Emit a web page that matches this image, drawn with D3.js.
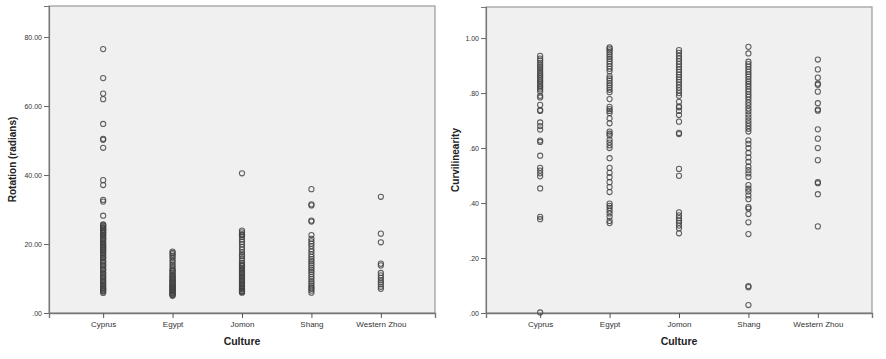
<!DOCTYPE html>
<html>
<head>
<meta charset="utf-8">
<script src="https://cdn.jsdelivr.net/npm/d3@7"></script>
<style>
  html, body { margin: 0; padding: 0; background: #ffffff; }
  svg { display: block; }
  text { font-family: "Liberation Sans", Arial, sans-serif; }
</style>
</head>
<body>
<svg id="chart" width="886" height="359"></svg>
<script>
const categories = ["Cyprus", "Egypt", "Jomon", "Shang", "Western Zhou"];

// Left panel: Rotation (radians)
const rotCyprus = [76.5, 68.1, 63.6, 62.0, 54.8, 50.5, 50.2, 47.9, 38.5, 37.1, 32.8, 32.3, 28.2, 25.7, 25.5, 25.3, 24.9, 24.7, 24.6, 24.2, 24.0, 23.9, 23.5, 23.3, 23.1, 22.6, 22.4, 22.2, 21.7, 21.5, 21.3, 20.8, 20.5, 20.1, 19.8, 19.6, 19.2, 18.9, 18.7, 18.3, 18.1, 17.9, 17.4, 17.1, 16.8, 16.3, 16.0, 15.9, 15.2, 14.9, 14.6, 14.1, 13.8, 13.5, 12.9, 12.6, 12.4, 11.8, 11.5, 11.2, 10.7, 10.4, 10.1, 9.6, 9.3, 9.0, 8.5, 8.2, 7.9, 7.4, 7.2, 7.0, 6.6, 6.4, 6.2, 5.8];
const rotEgypt = [17.8, 17.4, 17.0, 16.5, 16.0, 15.3, 14.8, 14.1, 13.6, 13.0, 12.5, 12.2, 12.0, 11.5, 11.2, 11.0, 10.6, 10.4, 10.2, 9.8, 9.6, 9.4, 9.0, 8.8, 8.7, 8.3, 8.1, 8.0, 7.7, 7.5, 7.4, 7.1, 6.9, 6.8, 6.5, 6.3, 6.2, 5.9, 5.7, 5.6, 5.3, 5.2, 5.0];
const rotJomon = [40.5, 23.9, 23.4, 22.8, 22.7, 22.5, 22.0, 21.3, 20.6, 19.9, 19.1, 18.4, 17.6, 16.9, 16.5, 15.8, 15.1, 14.5, 14.0, 13.7, 13.5, 13.0, 12.7, 12.4, 11.9, 11.6, 11.3, 10.8, 10.5, 10.3, 9.8, 9.5, 9.3, 8.8, 8.6, 8.4, 8.0, 7.8, 7.6, 7.2, 7.0, 6.8, 6.4, 6.2, 6.1, 5.9];
const rotShang = [35.9, 31.5, 31.2, 26.8, 26.5, 22.6, 21.5, 20.8, 20.1, 19.4, 18.5, 17.8, 17.0, 16.3, 15.6, 15.0, 14.4, 13.8, 13.1, 12.5, 11.9, 11.2, 10.5, 9.9, 9.2, 8.6, 8.0, 7.4, 7.0, 6.5, 5.9];
const rotWesternZhou = [33.7, 23.0, 20.5, 14.3, 13.8, 11.6, 10.9, 10.2, 9.5, 8.9, 8.3, 7.6, 7.0];
const rotTicks = [0, 20, 40, 60, 80];

// Right panel: Curvilinearity
const curCyprus = [0.935, 0.925, 0.918, 0.910, 0.902, 0.895, 0.888, 0.880, 0.873, 0.866, 0.860, 0.853, 0.846, 0.840, 0.833, 0.826, 0.820, 0.813, 0.806, 0.790, 0.784, 0.757, 0.738, 0.735, 0.693, 0.680, 0.667, 0.627, 0.622, 0.572, 0.528, 0.518, 0.508, 0.497, 0.453, 0.350, 0.341, 0.002];
const curEgypt = [0.966, 0.962, 0.955, 0.948, 0.940, 0.932, 0.924, 0.915, 0.906, 0.897, 0.888, 0.879, 0.862, 0.853, 0.845, 0.836, 0.828, 0.820, 0.812, 0.803, 0.778, 0.750, 0.742, 0.735, 0.727, 0.708, 0.690, 0.660, 0.652, 0.646, 0.630, 0.620, 0.610, 0.600, 0.563, 0.528, 0.510, 0.494, 0.476, 0.458, 0.440, 0.398, 0.390, 0.382, 0.372, 0.362, 0.350, 0.335, 0.327];
const curJomon = [0.956, 0.946, 0.935, 0.925, 0.915, 0.905, 0.895, 0.885, 0.876, 0.867, 0.858, 0.849, 0.840, 0.830, 0.820, 0.810, 0.800, 0.790, 0.768, 0.752, 0.748, 0.735, 0.720, 0.696, 0.655, 0.651, 0.524, 0.499, 0.366, 0.355, 0.345, 0.336, 0.328, 0.318, 0.308, 0.290];
const curShang = [0.968, 0.944, 0.914, 0.905, 0.896, 0.886, 0.877, 0.868, 0.860, 0.851, 0.842, 0.833, 0.824, 0.814, 0.805, 0.795, 0.786, 0.776, 0.765, 0.755, 0.744, 0.734, 0.722, 0.711, 0.700, 0.690, 0.680, 0.670, 0.660, 0.628, 0.615, 0.600, 0.582, 0.566, 0.550, 0.532, 0.520, 0.508, 0.495, 0.465, 0.452, 0.442, 0.428, 0.414, 0.385, 0.380, 0.360, 0.330, 0.287, 0.098, 0.094, 0.029];
const curWesternZhou = [0.922, 0.886, 0.856, 0.834, 0.830, 0.805, 0.763, 0.740, 0.736, 0.668, 0.634, 0.600, 0.556, 0.476, 0.472, 0.432, 0.315];
const curTicks = [0, 0.2, 0.4, 0.6, 0.8, 1.0];

const rotSeries = [rotCyprus, rotEgypt, rotJomon, rotShang, rotWesternZhou];
const curSeries = [curCyprus, curEgypt, curJomon, curShang, curWesternZhou];

const svg = d3.select("#chart");
const fmt = v => d3.format(".2f")(v).replace(/^0\./, ".");

function panel(opts) {
  const { x0, x1, y0, y1, domainMax, ticks, series, yTitle, yTitleX } = opts;
  const g = svg.append("g");
  const x = d3.scalePoint().domain(categories).range([x0, x1]).padding(0.78);
  const y = d3.scaleLinear().domain([0, domainMax]).range([y1, y0]);

  g.append("rect")
    .attr("x", x0).attr("y", y0)
    .attr("width", x1 - x0).attr("height", y1 - y0)
    .attr("fill", "#f0f0f0")
    .attr("stroke", "#9a9a9a").attr("stroke-width", 1.2);

  const yAxis = g.append("g")
    .attr("transform", `translate(${x0},0)`)
    .call(d3.axisLeft(y).tickValues(ticks).tickFormat(fmt).tickSize(5).tickPadding(2));
  yAxis.select(".domain").attr("stroke", "#777").attr("stroke-width", 1.2);
  yAxis.selectAll(".tick line").attr("stroke", "#666");
  yAxis.selectAll(".tick text").attr("font-size", 7).attr("fill", "#333")
    .attr("font-family", '"Liberation Sans", Arial, sans-serif');

  const xAxis = g.append("g")
    .attr("transform", `translate(0,${y1})`)
    .call(d3.axisBottom(x).tickSize(5).tickPadding(3));
  xAxis.select(".domain").attr("stroke", "#777").attr("stroke-width", 1.4);
  xAxis.selectAll(".tick line").attr("stroke", "#555");
  xAxis.selectAll(".tick text").attr("font-size", 8).attr("fill", "#333")
    .attr("font-family", '"Liberation Sans", Arial, sans-serif');

  const pts = [];
  series.forEach((vals, i) => vals.forEach(v => pts.push({ c: categories[i], v })));
  g.append("g").selectAll("circle").data(pts).join("circle")
    .attr("cx", d => x(d.c))
    .attr("cy", d => y(d.v))
    .attr("r", 2.6)
    .attr("fill", "none")
    .attr("stroke", "#444")
    .attr("stroke-opacity", 0.85)
    .attr("stroke-width", 1.05);

  g.append("text")
    .attr("x", (x0 + x1) / 2).attr("y", 345)
    .attr("text-anchor", "middle")
    .attr("font-size", 10.5).attr("font-weight", "bold").attr("fill", "#222")
    .text("Culture");

  g.append("text")
    .attr("transform", `translate(${yTitleX},${(y0 + y1) / 2}) rotate(-90)`)
    .attr("text-anchor", "middle")
    .attr("font-size", 10).attr("font-weight", "bold").attr("fill", "#222")
    .text(yTitle);
}

panel({ x0: 49, x1: 435, y0: 6, y1: 313, domainMax: 89, ticks: rotTicks,
        series: rotSeries, yTitle: "Rotation (radians)", yTitleX: 16 });
panel({ x0: 486, x1: 872, y0: 7, y1: 313, domainMax: 1.113, ticks: curTicks,
        series: curSeries, yTitle: "Curvilinearity", yTitleX: 459 });
</script>
</body>
</html>
